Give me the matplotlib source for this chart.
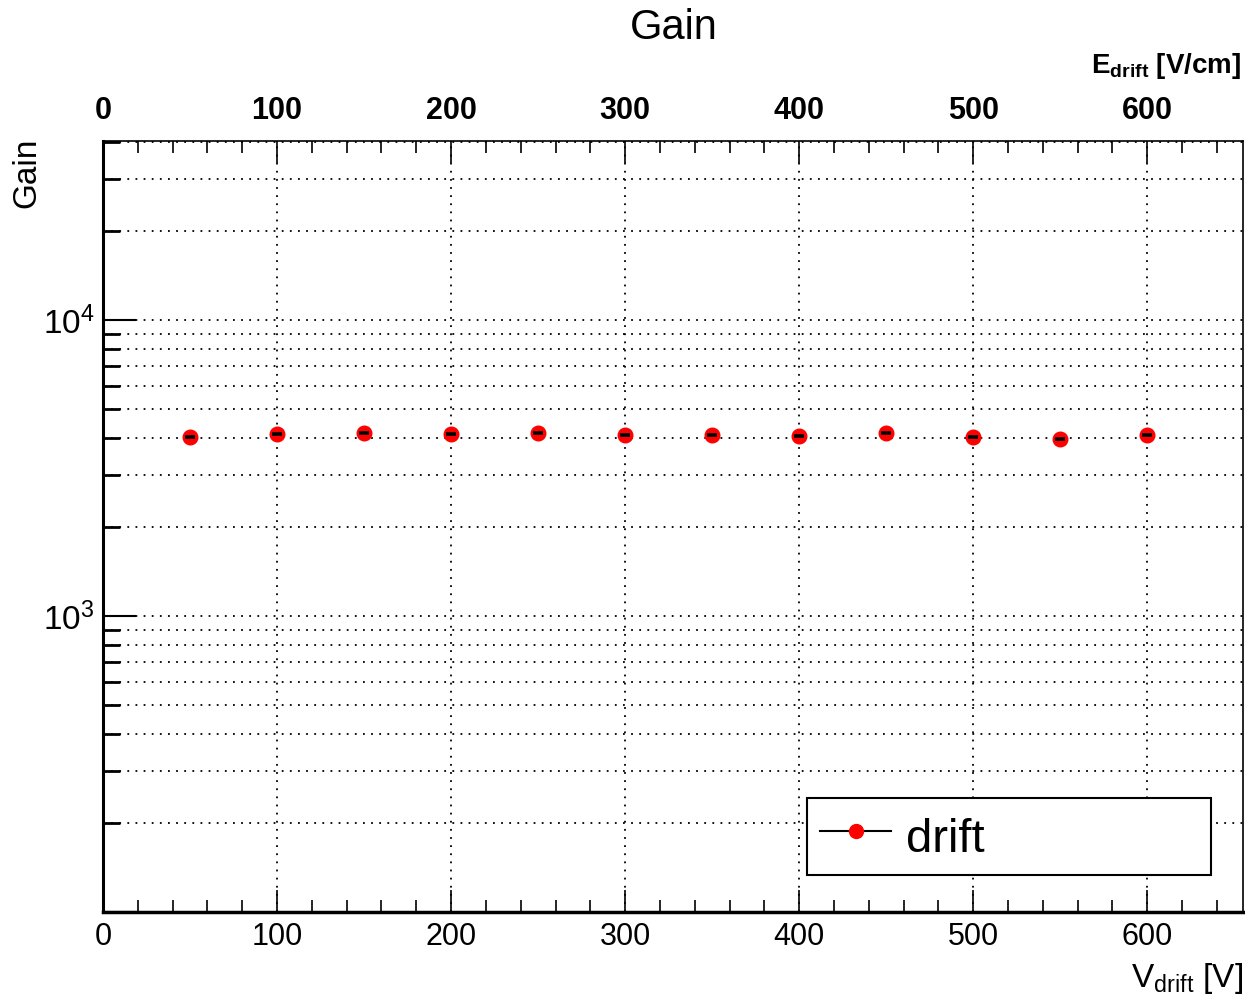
import math
import matplotlib
matplotlib.use("Agg")
import matplotlib.pyplot as plt
from matplotlib.lines import Line2D
from matplotlib.ticker import LogLocator, MultipleLocator, FixedLocator, NullFormatter, FuncFormatter

plt.rcParams['font.family'] = ['Liberation Sans', 'DejaVu Sans']
plt.rcParams['mathtext.fontset'] = 'custom'
plt.rcParams['mathtext.rm'] = 'Liberation Sans'
plt.rcParams['mathtext.it'] = 'Liberation Sans:italic'
plt.rcParams['mathtext.bf'] = 'Liberation Sans:bold'

# ---- data ----
v_drift = [50, 100, 150, 200, 250, 300, 350, 400, 450, 500, 550, 600]
gain = [4025, 4110, 4145, 4120, 4150, 4100, 4090, 4060, 4150, 4025, 3965, 4090]
v_err = [3] * 12
series_label = "drift"
title = "Gain"
x_label = r"V$_{\mathrm{drift}}$ [V]"
x2_label = r"$\mathbf{E_{drift}}$ [V/cm]"
y_label = "Gain"
x_ticks = [0, 100, 200, 300, 400, 500, 600]

fig = plt.figure(figsize=(12.45, 10), dpi=100)
ax = fig.add_axes([103/1245, 88/1000, 1140/1245, 771/1000])

ax.set_yscale('log')
ax.set_xlim(0, 655)
ax.set_ylim(100, 40300)

ax.set_axisbelow(True)
ax.xaxis.set_major_locator(FixedLocator(x_ticks))
ax.xaxis.set_minor_locator(MultipleLocator(20))
ax.yaxis.set_major_locator(LogLocator(base=10, numticks=10))
ax.yaxis.set_minor_locator(LogLocator(base=10, subs=range(2, 10), numticks=20))
ax.yaxis.set_minor_formatter(NullFormatter())

def yfmt(v, pos):
    if abs(v - 100) < 1:
        return ""
    e = int(round(math.log10(v)))
    return r"$10^{%d}$" % e
ax.yaxis.set_major_formatter(FuncFormatter(yfmt))

gridkw = dict(color='black', linestyle=(0, (1, 3.5)), linewidth=1.3)
ax.xaxis.grid(True, which='major', **gridkw)
ax.yaxis.grid(True, which='both', **gridkw)

ax.tick_params(axis='x', which='major', direction='in', length=16, width=1.2,
               top=True, bottom=True, labelsize=22, pad=7)
ax.tick_params(axis='x', which='minor', direction='in', length=8.5, width=1.2,
               top=True, bottom=True)
ax.tick_params(axis='y', which='major', direction='in', length=24, width=1.5,
               left=True, right=False, labelsize=24, pad=6)
ax.tick_params(axis='y', which='minor', direction='in', length=12, width=2,
               left=True, right=False)

for s, w in (('left', 2.2), ('bottom', 2.5), ('top', 1.2), ('right', 1.2)):
    ax.spines[s].set_linewidth(w)
    ax.spines[s].set_color('black')

# data
ax.plot(v_drift, gain, linestyle='none', marker='o', markersize=10.5,
        color='red', markeredgecolor='red', zorder=3)
ax.errorbar(v_drift, gain, xerr=v_err, fmt='none', ecolor='black',
            elinewidth=2.6, capsize=0, zorder=4)

# top axis (E_drift)
sec = ax.secondary_xaxis(1.0)
sec.set_xticks(x_ticks)
sec.spines['top'].set_visible(False)
sec.tick_params(axis='x', length=0, pad=11, labelsize=22)
for lab in sec.get_xticklabels():
    lab.set_fontweight('bold')

# legend
handle = Line2D([], [], color='black', linewidth=1.5, marker='o',
                markersize=10, markerfacecolor='red', markeredgecolor='red')
leg = ax.legend([handle], [series_label], loc='lower left',
                bbox_to_anchor=(0.6175, 0.048, 0.354, 0.104), mode='expand',
                borderaxespad=0, fancybox=False, framealpha=1, edgecolor='black',
                fontsize=34, handlelength=1.5, handletextpad=0.32, borderpad=0.28,
                handleheight=1.25)
leg.get_frame().set_linewidth(1.5)

# titles
fig.text(674/1245, 1 - 28/1000, title, ha='center', va='center', fontsize=30)
fig.text(1243/1245, 1 - 987/1000, x_label, ha='right', va='baseline', fontsize=24)
fig.text(1241/1245, 1 - 73/1000, x2_label, ha='right', va='baseline', fontsize=20,
         fontweight='bold')
fig.text(27/1245, 1 - 138/1000, y_label, ha='center', va='top', rotation=90,
         fontsize=24)

fig.savefig("out.png", dpi=100)
